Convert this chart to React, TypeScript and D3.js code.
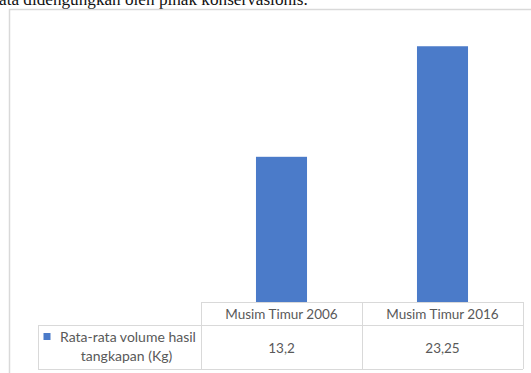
import React from "react";
import * as d3 from "d3";

const categories = ["Musim Timur 2006", "Musim Timur 2016"];
const values = [13.2, 23.25];
const valueLabels = ["13,2", "23,25"];
const seriesLabel = ["Rata-rata volume hasil", "tangkapan (Kg)"];
const captionText = "ata didengungkan oleh pihak konservasionis.";

const W = 531;
const H = 373;
const tableLeft = 201;
const tableRight = 523;
const legendLeft = 38;
const headerTop = 302;
const rowTop = 325.5;
const rowBottom = 369;
const gridColor = "#d9d9d9";
const textColor = "#595959";
const barColor = "#4b7bc9";
const tableFont = "Lato, 'Open Sans', sans-serif";

export default function App() {
  const x = d3
    .scaleBand<string>()
    .domain(categories)
    .range([tableLeft, tableRight])
    .paddingInner(0.683)
    .paddingOuter(0.3415);
  const y = d3.scaleLinear().domain([0, 25]).range([headerTop, 27]);
  const step = x.step();
  const colEdges = categories.map((_, i) => tableLeft + i * step);

  return (
    <div style={{ position: "fixed", left: 0, top: 0, width: W, height: H, background: "#fff" }}>
      <svg width={W} height={H} style={{ display: "block" }}>
        <rect x={0} y={0} width={W} height={H} fill="#fff" />
        {/* surrounding document text, clipped at the top */}
        <text
          x={-1}
          y={4.5}
          fontFamily="'Liberation Serif', 'Times New Roman', serif"
          fontSize={17.2}
          fill="#111"
        >
          {captionText}
        </text>
        {/* chart frame */}
        <rect x={9.5} y={9.5} width={W + 20} height={H + 20} fill="none" stroke={gridColor} strokeWidth={1.5} />

        {/* bars */}
        {categories.map((c, i) => (
          <rect
            key={c}
            x={x(c)}
            y={y(values[i])}
            width={x.bandwidth()}
            height={y(0) - y(values[i])}
            fill={barColor}
          />
        ))}

        {/* data table grid */}
        <g stroke={gridColor} strokeWidth={1} fill="none" shapeRendering="crispEdges">
          <line x1={tableLeft} x2={tableRight} y1={headerTop} y2={headerTop} />
          <line x1={legendLeft} x2={tableRight} y1={rowTop} y2={rowTop} />
          <line x1={legendLeft} x2={tableRight} y1={rowBottom} y2={rowBottom} />
          <line x1={legendLeft} x2={legendLeft} y1={rowTop} y2={rowBottom} />
          {colEdges.map((cx, i) => (
            <line key={i} x1={cx} x2={cx} y1={headerTop} y2={rowBottom} />
          ))}
          <line x1={tableRight} x2={tableRight} y1={headerTop} y2={rowBottom} />
        </g>

        {/* header row and value row */}
        <g fontFamily={tableFont} fontSize={13.5} fill={textColor} textAnchor="middle">
          {categories.map((c) => (
            <text key={c} x={(x(c) ?? 0) + x.bandwidth() / 2} y={319}>
              {c}
            </text>
          ))}
          {categories.map((c, i) => (
            <text key={c + "v"} x={(x(c) ?? 0) + x.bandwidth() / 2} y={352.5}>
              {valueLabels[i]}
            </text>
          ))}
        </g>

        {/* legend cell */}
        <rect x={43.5} y={333} width={7} height={7} fill={barColor} />
        <g fontFamily={tableFont} fontSize={14} fill={textColor} textAnchor="middle">
          <text x={128} y={342}>
            {seriesLabel[0]}
          </text>
          <text x={126.5} y={361}>
            {seriesLabel[1]}
          </text>
        </g>
      </svg>
    </div>
  );
}
